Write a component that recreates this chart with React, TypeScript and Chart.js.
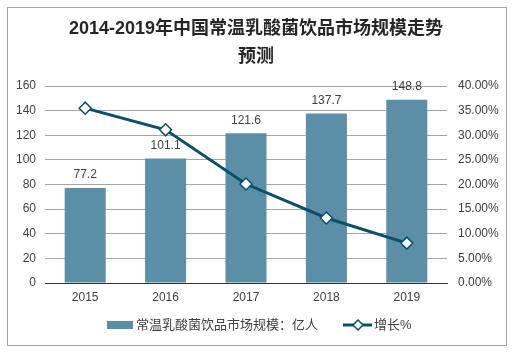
import React, { useEffect, useRef } from "react";
import { Chart, registerables } from "chart.js";

Chart.register(...registerables);

const titleLines = ["2014-2019年中国常温乳酸菌饮品市场规模走势", "预测"];
const categories = ["2015", "2016", "2017", "2018", "2019"];
const marketSize = [77.2, 101.1, 121.6, 137.7, 148.8];
const growthRate = [0.355, 0.311, 0.201, 0.132, 0.081];
const barLabel = "常温乳酸菌饮品市场规模：亿人";
const lineLabel = "增长%";

const BAR_COLOR = "#5b8fa8";
const LINE_COLOR = "#0d4f69";
const TEXT_COLOR = "#404040";
const FONT = '"Liberation Sans", Arial, "Noto Sans CJK SC", sans-serif';

const decorPlugin = {
  id: "decor",
  beforeDraw(chart: any) {
    const ctx = chart.ctx;
    ctx.save();
    ctx.fillStyle = "#ffffff";
    ctx.fillRect(0, 0, chart.width, chart.height);
    ctx.strokeStyle = "#a6a6a6";
    ctx.lineWidth = 1;
    ctx.strokeRect(7.5, 7.5, 499, 338);
    ctx.restore();
  },
  afterDraw(chart: any) {
    const ctx = chart.ctx;
    ctx.save();
    // title
    ctx.fillStyle = "#262626";
    ctx.font = `bold 18px ${FONT}`;
    ctx.textAlign = "center";
    ctx.textBaseline = "middle";
    ctx.fillText(titleLines[0], 256, 29);
    ctx.fillText(titleLines[1], 256, 57);

    // bar value labels
    const meta = chart.getDatasetMeta(0);
    ctx.font = `12px ${FONT}`;
    ctx.fillStyle = TEXT_COLOR;
    meta.data.forEach((el: any, i: number) => {
      ctx.fillText(String(marketSize[i]), el.x, el.y - 13);
    });

    // legend
    const ly = 325;
    ctx.fillStyle = BAR_COLOR;
    ctx.fillRect(107, ly - 4, 26, 8);
    ctx.font = `13px ${FONT}`;
    ctx.fillStyle = TEXT_COLOR;
    ctx.textAlign = "left";
    ctx.fillText(barLabel, 136, ly);
    ctx.strokeStyle = LINE_COLOR;
    ctx.lineWidth = 3;
    ctx.beginPath();
    ctx.moveTo(343, ly);
    ctx.lineTo(372, ly);
    ctx.stroke();
    ctx.beginPath();
    ctx.moveTo(358, ly - 5);
    ctx.lineTo(363, ly);
    ctx.lineTo(358, ly + 5);
    ctx.lineTo(353, ly);
    ctx.closePath();
    ctx.fillStyle = "#ffffff";
    ctx.fill();
    ctx.lineWidth = 1.5;
    ctx.stroke();
    ctx.fillStyle = TEXT_COLOR;
    ctx.fillText(lineLabel, 374, ly);
    ctx.restore();
  },
};

export default function App() {
  const canvasRef = useRef<HTMLCanvasElement | null>(null);

  useEffect(() => {
    document.body.style.margin = "0";
    const canvas = canvasRef.current;
    if (!canvas) return;
    const chart = new Chart(canvas, {
      type: "bar",
      data: {
        labels: categories,
        datasets: [
          {
            type: "bar",
            label: barLabel,
            data: marketSize,
            backgroundColor: BAR_COLOR,
            yAxisID: "y",
            barPercentage: 0.51,
            categoryPercentage: 1,
            order: 1,
          },
          {
            type: "line",
            label: lineLabel,
            data: growthRate,
            borderColor: LINE_COLOR,
            borderWidth: 3,
            backgroundColor: "#ffffff",
            pointStyle: "rectRot",
            pointRadius: 6,
            pointBorderWidth: 1.5,
            pointBorderColor: LINE_COLOR,
            pointBackgroundColor: "#ffffff",
            yAxisID: "y1",
            tension: 0,
            order: 0,
          } as any,
        ],
      },
      options: {
        responsive: false,
        animation: false,
        devicePixelRatio: 1,
        layout: { padding: { left: 0, right: 0, top: 86, bottom: 42 } },
        plugins: {
          legend: { display: false },
          title: { display: false },
          tooltip: { enabled: false },
        },
        scales: {
          x: {
            grid: { display: false, drawTicks: false },
            border: { display: true, color: "#333333", width: 1 },
            ticks: { color: TEXT_COLOR, font: { family: FONT, size: 12 }, padding: 7 },
            afterFit: (s: any) => {
              s.height = 30;
            },
          },
          y: {
            position: "left",
            min: 0,
            max: 160,
            ticks: { stepSize: 20, color: TEXT_COLOR, font: { family: FONT, size: 12 }, padding: 9 },
            grid: {
              drawTicks: false,
              color: (c: any) => (c.tick && c.tick.value === 0 ? "rgba(0,0,0,0)" : "#a6a6a6"),
            },
            border: { display: false },
            afterFit: (s: any) => {
              s.width = 45;
            },
          },
          y1: {
            position: "right",
            min: 0,
            max: 0.4,
            ticks: {
              stepSize: 0.05,
              color: TEXT_COLOR,
              font: { family: FONT, size: 12 },
              padding: 11,
              callback: (v: any) => (Number(v) * 100).toFixed(2) + "%",
            },
            grid: { display: false, drawTicks: false },
            border: { display: false },
            afterFit: (s: any) => {
              s.width = 78;
            },
          },
        },
      } as any,
      plugins: [decorPlugin],
    });
    return () => chart.destroy();
  }, []);

  return (
    <div style={{ width: 525, height: 355 }}>
      <canvas ref={canvasRef} width={525} height={355} style={{ display: "block", width: 525, height: 355 }} />
    </div>
  );
}
